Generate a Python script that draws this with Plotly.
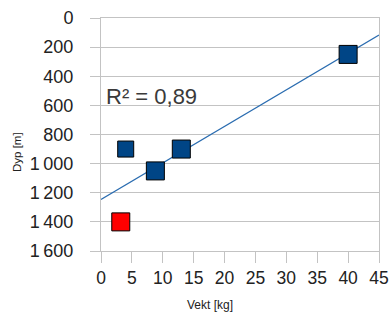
import numpy as np
import plotly.graph_objects as go

# Data
weights_blue = [4, 8.8, 13, 40]
depths_blue = [900, 1050, 900, 250]
sizes_blue = [16, 18, 18, 18]
weights_red = [3.2]
depths_red = [1400]
r2_label = "R² = 0,89"
x_ticks = [0, 5, 10, 15, 20, 25, 30, 35, 40, 45]
y_ticks = [0, 200, 400, 600, 800, 1000, 1200, 1400, 1600]
y_ticktext = ["0", "200", "400", "600", "800", "1\u2009000", "1\u2009200", "1\u2009400", "1\u2009600"]
x_title = "Vekt [kg]"
y_title = "Dyp [m]"

# Linear trend over all points
all_x = np.array(weights_blue + weights_red, dtype=float)
all_y = np.array(depths_blue + depths_red, dtype=float)
slope, intercept = np.polyfit(all_x, all_y, 1)
x_range = [0, 45]
trend_x = np.array(x_range, dtype=float)
trend_y = intercept + slope * trend_x

grid = "#c3c3c3"
font_family = "Liberation Sans, Arial, sans-serif"

W, H = 390, 317
ml, mr, mt, mb = 101, 11, 18, 66
pw, ph = W - ml - mr, H - mt - mb


def px_x(p):
    return (p - ml) / pw


def px_y(p):
    return (H - p - mb) / ph


fig = go.Figure()
fig.add_trace(go.Scatter(
    x=trend_x, y=trend_y, mode="lines",
    line=dict(color="#2a6cb0", width=1.2),
    hoverinfo="skip", showlegend=False,
))
fig.add_trace(go.Scatter(
    x=weights_blue, y=depths_blue, mode="markers",
    marker=dict(symbol="square", size=sizes_blue, color="#004586", opacity=1,
                line=dict(color="#000000", width=1)),
    showlegend=False,
))
fig.add_trace(go.Scatter(
    x=weights_red, y=depths_red, mode="markers",
    marker=dict(symbol="square", size=18, color="#ff0000", opacity=1,
                line=dict(color="#000000", width=1)),
    showlegend=False,
))

fig.add_annotation(
    x=0.5, y=541, xref="x", yref="y", text=r2_label, showarrow=False,
    xanchor="left", yanchor="middle",
    font=dict(family=font_family, size=22, color="#3a3a3a"),
)
fig.add_annotation(
    x=px_x(210), y=px_y(305), xref="paper", yref="paper",
    text=x_title, showarrow=False, xanchor="center", yanchor="middle",
    font=dict(family=font_family, size=12, color="#222222"),
)
fig.add_annotation(
    x=px_x(17), y=px_y(152), xref="paper", yref="paper",
    text=y_title, showarrow=False, textangle=-90,
    xanchor="center", yanchor="middle",
    font=dict(family=font_family, size=11.5, color="#222222"),
)

fig.update_layout(
    width=W, height=H,
    margin=dict(l=ml, r=mr, t=mt, b=mb, pad=0, autoexpand=False),
    paper_bgcolor="white", plot_bgcolor="white",
    font=dict(family=font_family, size=17, color="#222222"),
    showlegend=False,
)
fig.update_xaxes(
    range=x_range, tickvals=x_ticks, showgrid=False, zeroline=False,
    showline=True, linecolor=grid, linewidth=1, mirror=True, automargin=False,
    ticks="outside", ticklen=11, tickcolor=grid, tickwidth=1,
    tickfont=dict(size=17.5, color="#222222"),
)
fig.update_yaxes(
    range=[1600, 0], tickvals=y_ticks, ticktext=y_ticktext,
    showgrid=True, gridcolor=grid, gridwidth=1, zeroline=False,
    showline=True, linecolor=grid, linewidth=1, mirror=True, automargin=False,
    ticks="outside", ticklen=10, tickcolor=grid, tickwidth=1,
    ticklabelstandoff=13,
    tickfont=dict(size=18, color="#222222"),
)

fig.write_html(
    "out.html",
    config={"displayModeBar": False},
    post_script="document.body.style.margin='0';document.body.style.overflow='hidden';",
)
